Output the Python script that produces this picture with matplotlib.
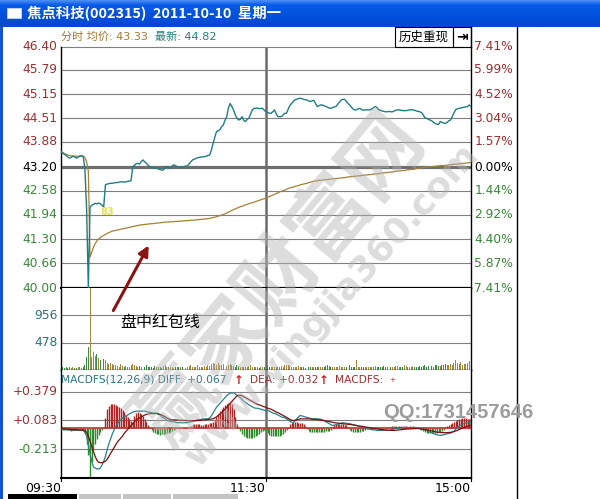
import numpy as np
import matplotlib
matplotlib.use('Agg')
import matplotlib.pyplot as plt
from matplotlib.patches import Rectangle

NUM = ['DejaVu Sans', 'Noto Sans CJK SC']
CJK = ['Noto Sans CJK SC', 'DejaVu Sans']
plt.rcParams['font.family'] = NUM

# ---------------- data ----------------
title = '焦点科技(002315)  2011-10-10  星期一'
price = [43.62, 43.58, 43.55, 43.52, 43.48, 43.45, 43.47, 43.50, 43.48, 43.45,
         43.47, 43.50, 43.52, 43.49, 43.15, 42.10, 40.00, 42.15, 42.20, 42.22,
         42.25, 42.23, 42.26, 42.24, 42.20, 42.15, 42.74, 42.76, 42.77, 42.78,
         42.78, 42.79, 42.80, 42.80, 42.81, 42.82, 42.82, 42.81, 42.82, 42.83,
         42.84, 42.85, 43.22, 43.26, 43.30, 43.31, 43.29, 43.36, 43.40, 43.35,
         43.31, 43.26, 43.22, 43.20, 43.19, 43.18, 43.18, 43.16, 43.15, 43.13,
         43.14, 43.20, 43.23, 43.18, 43.20, 43.24, 43.27, 43.25, 43.22, 43.21,
         43.22, 43.20, 43.22, 43.24, 43.24, 43.30, 43.35, 43.40, 43.42, 43.44,
         43.46, 43.47, 43.48, 43.48, 43.49, 43.50, 43.52, 43.53, 43.66, 43.84,
         44.00, 44.15, 44.18, 44.20, 44.28, 44.33, 44.45, 44.55, 44.78, 44.90,
         44.82, 44.73, 44.60, 44.51, 44.46, 44.48, 44.55, 44.45, 44.42, 44.48,
         44.51, 44.62, 44.73, 44.77, 44.77, 44.78, 44.76, 44.77, 44.77, 44.72,
         44.68, 44.66, 44.64, 44.64, 44.68, 44.73, 44.62, 44.55, 44.55, 44.55,
         44.60, 44.64, 44.64, 44.75, 44.85, 44.90, 44.96, 45.00, 45.01, 45.03,
         45.04, 45.03, 45.01, 45.00, 44.99, 44.97, 44.95, 44.97, 44.98, 44.90,
         44.82, 44.84, 44.86, 44.86, 44.84, 44.82, 44.80, 44.78, 44.77, 44.79,
         44.81, 44.82, 44.88, 44.94, 44.99, 45.01, 45.01, 44.96, 44.90, 44.86,
         44.80, 44.75, 44.73, 44.73, 44.76, 44.77, 44.74, 44.72, 44.73, 44.73,
         44.73, 44.73, 44.76, 44.79, 44.82, 44.79, 44.73, 44.72, 44.70, 44.69,
         44.68, 44.68, 44.69, 44.68, 44.68, 44.70, 44.72, 44.73, 44.73, 44.72,
         44.71, 44.71, 44.71, 44.72, 44.73, 44.73, 44.73, 44.72, 44.70, 44.69,
         44.68, 44.66, 44.60, 44.52, 44.51, 44.48, 44.46, 44.44, 44.40, 44.37,
         44.35, 44.34, 44.42, 44.40, 44.38, 44.37, 44.40, 44.44, 44.46, 44.55,
         44.65, 44.73, 44.76, 44.77, 44.78, 44.79, 44.80, 44.81, 44.82, 44.86,
         44.82]
avg_price = [43.62, 43.60, 43.57, 43.55, 43.53, 43.52, 43.51, 43.51, 43.50, 43.50,
             43.50, 43.50, 43.50, 43.50, 43.47, 43.35, 43.10, 40.82, 40.95, 41.08,
             41.18, 41.25, 41.30, 41.34, 41.37, 41.40, 41.42, 41.45, 41.47, 41.49,
             41.51, 41.52, 41.53, 41.54, 41.55, 41.56, 41.57, 41.58, 41.59, 41.60,
             41.61, 41.62, 41.63, 41.64, 41.65, 41.66, 41.67, 41.68, 41.68, 41.69,
             41.69, 41.70, 41.70, 41.71, 41.71, 41.72, 41.72, 41.73, 41.73, 41.74,
             41.74, 41.75, 41.75, 41.75, 41.76, 41.76, 41.76, 41.77, 41.77, 41.77,
             41.78, 41.78, 41.78, 41.79, 41.79, 41.79, 41.80, 41.80, 41.80, 41.81,
             41.81, 41.82, 41.82, 41.83, 41.83, 41.84, 41.84, 41.85, 41.86, 41.87,
             41.88, 41.89, 41.91, 41.92, 41.94, 41.95, 41.97, 41.99, 42.01, 42.04,
             42.06, 42.08, 42.10, 42.12, 42.14, 42.16, 42.17, 42.19, 42.21, 42.22,
             42.24, 42.25, 42.27, 42.28, 42.30, 42.31, 42.33, 42.34, 42.36, 42.37,
             42.39, 42.41, 42.43, 42.45, 42.47, 42.49, 42.51, 42.53, 42.55, 42.57,
             42.58, 42.60, 42.62, 42.64, 42.66, 42.67, 42.68, 42.70, 42.71, 42.72,
             42.74, 42.75, 42.76, 42.77, 42.78, 42.80, 42.81, 42.82, 42.84, 42.84,
             42.85, 42.86, 42.86, 42.87, 42.87, 42.88, 42.88, 42.89, 42.89, 42.90,
             42.90, 42.91, 42.91, 42.92, 42.92, 42.93, 42.93, 42.94, 42.95, 42.95,
             42.96, 42.96, 42.97, 42.97, 42.98, 42.98, 42.99, 42.99, 43.00, 43.00,
             43.01, 43.01, 43.02, 43.02, 43.03, 43.03, 43.04, 43.05, 43.05, 43.06,
             43.06, 43.07, 43.07, 43.08, 43.08, 43.09, 43.10, 43.10, 43.11, 43.11,
             43.12, 43.12, 43.13, 43.14, 43.14, 43.15, 43.15, 43.16, 43.17, 43.18,
             43.19, 43.19, 43.20, 43.20, 43.21, 43.21, 43.22, 43.22, 43.23, 43.23,
             43.24, 43.24, 43.25, 43.25, 43.25, 43.26, 43.26, 43.27, 43.27, 43.28,
             43.28, 43.29, 43.29, 43.30, 43.30, 43.31, 43.31, 43.32, 43.32, 43.33,
             43.33]
volume = [60, 45, 40, 50, 35, 45, 40, 55, 35, 40,
          50, 45, 40, 60, 90, 230, 410, 4500, 230, 320,
          250, 280, 210, 180, 150, 200, 170, 120, 110, 125,
          100, 80, 90, 70, 60, 100, 65, 55, 70, 60,
          50, 90, 110, 80, 70, 60, 75, 50, 45, 60,
          80, 55, 45, 50, 40, 65, 50, 45, 55, 40,
          70, 90, 50, 45, 60, 55, 40, 50, 45, 60,
          50, 45, 55, 40, 60, 70, 95, 60, 50, 45,
          80, 55, 60, 50, 75, 60, 90, 70, 110, 130,
          100, 85, 120, 95, 80, 110, 90, 70, 95, 100,
          80, 70, 60, 85, 65, 50, 55, 60, 45, 50,
          70, 80, 60, 55, 45, 50, 40, 55, 45, 50,
          60, 70, 55, 45, 50, 60, 50, 45, 55, 65,
          60, 85, 95, 80, 70, 60, 55, 50, 60, 70,
          55, 45, 50, 40, 55, 45, 60, 50, 45, 55,
          50, 45, 60, 55, 50, 65, 80, 70, 55, 50,
          45, 60, 55, 70, 50, 45, 55, 60, 65, 80,
          55, 50, 45, 175, 60, 50, 45, 55, 60, 50,
          45, 55, 50, 60, 70, 55, 50, 45, 60, 75,
          55, 50, 60, 45, 55, 50, 65, 70, 55, 50,
          60, 80, 65, 55, 50, 60, 70, 55, 45, 60,
          65, 55, 70, 80, 60, 75, 90, 70, 60, 80,
          95, 70, 65, 90, 85, 100, 80, 95, 110, 90,
          130, 170, 120, 100, 140, 90, 110, 100, 130, 150,
          290]
macd_hist = [-0.01, -0.015, -0.02, -0.02, -0.015, -0.02, -0.025, -0.02, -0.015, -0.02,
             -0.02, -0.015, -0.02, -0.03, -0.06, -0.16, -0.28, -0.51, -0.35, -0.23,
             -0.16, -0.11, -0.07, -0.04, -0.02, 0.02, 0.11, 0.20, 0.23, 0.25,
             0.25, 0.25, 0.24, 0.23, 0.22, 0.21, 0.19, 0.17, 0.14, 0.12,
             0.10, 0.08, 0.07, 0.13, 0.16, 0.17, 0.16, 0.15, 0.13, 0.10,
             0.07, 0.04, 0.02, -0.02, -0.04, -0.05, -0.06, -0.06, -0.065, -0.06,
             -0.06, -0.055, -0.05, -0.045, -0.04, -0.03, -0.02, -0.01, 0.01, -0.01,
             0.01, 0.02, 0.01, -0.01, 0.01, 0.02, 0.03, 0.04, 0.05, 0.05,
             0.05, 0.05, 0.04, 0.04, 0.05, 0.05, 0.05, 0.06, 0.06, 0.07,
             0.09, 0.12, 0.15, 0.18, 0.20, 0.22, 0.24, 0.25, 0.26, 0.27,
             0.25, 0.20, 0.12, 0.05, 0.0, -0.03, -0.06, -0.08, -0.09, -0.10,
             -0.10, -0.10, -0.10, -0.09, -0.08, -0.07, -0.06, -0.04, -0.03, -0.02,
             -0.03, -0.05, -0.07, -0.08, -0.08, -0.08, -0.08, -0.08, -0.08, -0.07,
             -0.06, -0.04, -0.02, 0.02, 0.05, 0.06, 0.07, 0.07, 0.07, 0.06,
             0.06, 0.06, 0.05, 0.03, -0.01, -0.03, -0.04, -0.04, -0.04, -0.04,
             -0.04, -0.04, -0.04, -0.04, -0.04, -0.03, -0.03, -0.03, -0.02, 0.02,
             0.04, 0.05, 0.05, 0.05, 0.05, 0.05, 0.04, 0.04, 0.02, -0.02,
             -0.03, -0.04, -0.04, -0.04, -0.04, -0.04, -0.03, -0.03, -0.02, -0.01,
             0.01, -0.01, -0.02, 0.01, -0.01, 0.01, -0.02, -0.02, -0.01, 0.01,
             -0.01, 0.01, 0.02, 0.02, 0.03, 0.03, 0.03, 0.02, 0.03, 0.03,
             0.02, 0.03, 0.03, 0.02, 0.03, 0.02, 0.03, 0.02, 0.01, 0.01,
             -0.01, -0.02, -0.03, -0.04, -0.05, -0.05, -0.05, -0.05, -0.05, -0.05,
             -0.05, -0.04, -0.04, -0.03, -0.02, 0.02, 0.03, 0.04, 0.05, 0.06,
             0.07, 0.08, 0.09, 0.10, 0.10, 0.11, 0.11, 0.11, 0.10, 0.10,
             0.11]
macd_diff = [0.0, -0.005, -0.01, -0.01, -0.015, -0.015, -0.02, -0.02, -0.02, -0.02,
             -0.02, -0.02, -0.02, -0.02, -0.04, -0.08, -0.17, -0.26, -0.34, -0.40,
             -0.41, -0.42, -0.42, -0.41, -0.38, -0.34, -0.29, -0.22, -0.16, -0.11,
             -0.06, -0.02, 0.02, 0.05, 0.07, 0.09, 0.11, 0.12, 0.13, 0.14,
             0.15, 0.16, 0.17, 0.175, 0.18, 0.18, 0.18, 0.18, 0.18, 0.18,
             0.175, 0.17, 0.17, 0.165, 0.16, 0.16, 0.16, 0.15, 0.14, 0.12,
             0.11, 0.10, 0.085, 0.08, 0.075, 0.07, 0.07, 0.065, 0.06, 0.06,
             0.06, 0.06, 0.06, 0.06, 0.06, 0.065, 0.07, 0.075, 0.08, 0.085,
             0.09, 0.09, 0.095, 0.10, 0.10, 0.10, 0.10, 0.11, 0.13, 0.16,
             0.19, 0.22, 0.24, 0.26, 0.28, 0.30, 0.32, 0.34, 0.355, 0.365,
             0.37, 0.37, 0.36, 0.345, 0.33, 0.32, 0.30, 0.285, 0.27, 0.26,
             0.245, 0.235, 0.225, 0.215, 0.21, 0.21, 0.205, 0.20, 0.195, 0.19,
             0.19, 0.185, 0.18, 0.17, 0.16, 0.155, 0.15, 0.14, 0.13, 0.12,
             0.115, 0.11, 0.10, 0.09, 0.075, 0.065, 0.06, 0.08, 0.10, 0.12,
             0.135, 0.13, 0.125, 0.12, 0.115, 0.11, 0.105, 0.10, 0.10, 0.10,
             0.10, 0.10, 0.095, 0.09, 0.08, 0.07, 0.06, 0.05, 0.04, 0.03,
             0.035, 0.04, 0.045, 0.05, 0.055, 0.06, 0.055, 0.055, 0.05, 0.05,
             0.045, 0.04, 0.035, 0.03, 0.025, 0.02, 0.015, 0.01, 0.005, 0.0,
             -0.005, -0.01, -0.01, -0.015, -0.015, -0.02, -0.02, -0.02, -0.02, -0.02,
             -0.02, -0.02, -0.02, -0.015, -0.01, -0.005, 0.0, 0.0, 0.005, 0.005,
             0.01, 0.01, 0.01, 0.01, 0.01, 0.01, 0.01, 0.01, 0.01, 0.005,
             0.0, -0.005, -0.01, -0.015, -0.02, -0.03, -0.04, -0.045, -0.05, -0.06,
             -0.065, -0.07, -0.07, -0.07, -0.065, -0.06, -0.055, -0.05, -0.05, -0.04,
             -0.03, -0.01, 0.01, 0.025, 0.035, 0.045, 0.05, 0.055, 0.06, 0.065,
             0.067]
macd_dea = [0.0, -0.002, -0.004, -0.006, -0.008, -0.01, -0.011, -0.012, -0.013, -0.014,
            -0.015, -0.015, -0.015, -0.016, -0.02, -0.04, -0.08, -0.13, -0.19, -0.24,
            -0.29, -0.33, -0.35, -0.355, -0.355, -0.35, -0.34, -0.32, -0.29, -0.26,
            -0.23, -0.20, -0.17, -0.14, -0.12, -0.10, -0.08, -0.05, -0.03, -0.01,
            0.01, 0.03, 0.05, 0.07, 0.09, 0.10, 0.11, 0.12, 0.13, 0.14,
            0.145, 0.15, 0.155, 0.155, 0.155, 0.155, 0.155, 0.15, 0.145, 0.14,
            0.13, 0.12, 0.11, 0.10, 0.095, 0.09, 0.09, 0.088, 0.087, 0.086,
            0.085, 0.084, 0.083, 0.082, 0.081, 0.08, 0.08, 0.08, 0.08, 0.081,
            0.082, 0.083, 0.085, 0.087, 0.09, 0.092, 0.094, 0.096, 0.098, 0.10,
            0.11, 0.12, 0.135, 0.15, 0.165, 0.18, 0.20, 0.22, 0.24, 0.26,
            0.28, 0.30, 0.32, 0.34, 0.345, 0.345, 0.34, 0.33, 0.32, 0.31,
            0.30, 0.29, 0.28, 0.27, 0.26, 0.25, 0.245, 0.24, 0.23, 0.225,
            0.22, 0.21, 0.205, 0.20, 0.19, 0.18, 0.17, 0.165, 0.155, 0.145,
            0.135, 0.125, 0.115, 0.105, 0.095, 0.085, 0.083, 0.085, 0.09, 0.095,
            0.10, 0.10, 0.10, 0.10, 0.10, 0.10, 0.10, 0.095, 0.095, 0.095,
            0.09, 0.09, 0.088, 0.085, 0.082, 0.08, 0.076, 0.072, 0.068, 0.064,
            0.06, 0.058, 0.056, 0.054, 0.052, 0.05, 0.048, 0.046, 0.044, 0.042,
            0.04, 0.037, 0.034, 0.031, 0.028, 0.025, 0.022, 0.019, 0.016, 0.013,
            0.01, 0.007, 0.004, 0.001, -0.002, -0.005, -0.008, -0.01, -0.012, -0.014,
            -0.016, -0.018, -0.019, -0.02, -0.02, -0.02, -0.018, -0.016, -0.014, -0.012,
            -0.01, -0.008, -0.006, -0.005, -0.004, -0.003, -0.002, -0.001, 0.0, 0.0,
            -0.002, -0.005, -0.008, -0.011, -0.014, -0.018, -0.022, -0.026, -0.03, -0.034,
            -0.038, -0.04, -0.042, -0.043, -0.044, -0.044, -0.043, -0.042, -0.04, -0.036,
            -0.032, -0.026, -0.02, -0.012, -0.004, 0.004, 0.012, 0.018, 0.024, 0.028,
            0.032]

price_ticks = [46.40, 45.79, 45.15, 44.51, 43.88, 43.20, 42.58, 41.94, 41.30, 40.66, 40.00]
price_labels = ['46.40', '45.79', '45.15', '44.51', '43.88', '43.20', '42.58', '41.94', '41.30', '40.66', '40.00']
pct_labels = ['7.41%', '5.99%', '4.52%', '3.04%', '1.57%', '0.00%', '1.44%', '2.92%', '4.40%', '5.87%', '7.41%']
ref_price = 43.20
vol_ticks = [956, 478]
vol_max = 1434
macd_ticks = [0.379, 0.083, -0.213]
macd_labels = ['+0.379', '+0.083', '-0.213']
macd_lim = (-0.514, 0.607)
time_pos = [0, 120, 240]
time_labels = ['09:30', '11:30', '15:00']

# ---------------- style ----------------
RED_T = '#9B2F2F'
GRN_T = '#3A873A'
TEAL = '#237C82'
AVG = '#A58038'
GRID = '#7F7F7F'
W, H = 600, 499

fig = plt.figure(figsize=(W / 100, H / 100), dpi=100)
fig.patch.set_facecolor('white')


def rect(x0, y0, x1, y1):
    return [x0 / W, 1 - y1 / H, (x1 - x0) / W, (y1 - y0) / H]


def lab_color(i, mid):
    if i < mid:
        return RED_T
    if i == mid:
        return 'black'
    return GRN_T


ax_p = fig.add_axes(rect(61, 47, 471, 288))
ax_v = fig.add_axes(rect(61, 288, 471, 370))
ax_m = fig.add_axes(rect(61, 370, 471, 478))

for ax in (ax_p, ax_v, ax_m):
    ax.set_xlim(0, 240)
    ax.set_xticks([])
    ax.set_yticks([])
    ax.spines['top'].set_visible(False)
    for s in ('left', 'right', 'bottom'):
        ax.spines[s].set_color('black')
        ax.spines[s].set_linewidth(1.0)
    ax.axvline(120, color='#6A6A6A', lw=1.8, zorder=1)

# price panel
m = np.arange(len(price))
ax_p.set_ylim(40.00, 46.40)
ax_p.spines['bottom'].set_linewidth(1.6)
mid = price_ticks.index(ref_price)
for i, t in enumerate(price_ticks):
    if t == ref_price:
        ax_p.axhline(t, color='#6E6E6E', lw=2.3, zorder=1)
    elif i != len(price_ticks) - 1:
        ax_p.axhline(t, color=GRID, lw=0.8, zorder=1, clip_on=False)
    ytr = ax_p.get_yaxis_transform()
    ax_p.text(-0.008, t, price_labels[i], transform=ytr, ha='right', va='center',
              fontsize=8.8, color=lab_color(i, mid))
    ax_p.text(1.008, t, pct_labels[i], transform=ytr, ha='left', va='center',
              fontsize=8.8, color=lab_color(i, mid))
ax_p.plot(np.arange(len(avg_price)), avg_price, color=AVG, lw=0.9, zorder=3)
ax_p.plot(m, price, color=TEAL, lw=1.0, zorder=4)

# volume panel
ax_v.set_ylim(0, vol_max)
for t in vol_ticks:
    ax_v.axhline(t, color=GRID, lw=0.8, zorder=1)
    ax_v.text(-0.008, t, str(t), transform=ax_v.get_yaxis_transform(), ha='right',
              va='center', fontsize=8.8, color='#2F6E80')
vcol = ['#A8863A' if i == 0 or price[i] >= price[i - 1] else '#3C8C46'
        for i in range(len(volume))]
ax_v.bar(np.arange(len(volume)), volume, width=0.55, color=vcol, zorder=2)

# macd panel
ax_m.set_ylim(*macd_lim)
ax_m.spines['bottom'].set_linewidth(1.5)
for t, lbl in zip(macd_ticks, macd_labels):
    ax_m.axhline(t, color=GRID, lw=0.8, zorder=1)
    ax_m.text(-0.008, t, lbl, transform=ax_m.get_yaxis_transform(), ha='right',
              va='center', fontsize=8.8, color=RED_T if t > 0 else GRN_T)
hm = np.arange(len(macd_hist))
hcol = ['#B42222' if v > 0 else '#2E8B2E' for v in macd_hist]
ax_m.vlines(hm, 0, macd_hist, colors=hcol, lw=1.0, zorder=2)
ax_m.axhline(0, color='#C03030', lw=1.2, zorder=2)
ax_m.plot(np.arange(len(macd_diff)), macd_diff, color='#2A8088', lw=0.9, zorder=3)
ax_m.plot(np.arange(len(macd_dea)), macd_dea, color='#7A1010', lw=0.9, zorder=3)
for p, lbl in zip(time_pos, time_labels):
    ax_m.text(p, -0.04, lbl, transform=ax_m.get_xaxis_transform(), ha='right', va='top',
              fontsize=9, color='black', clip_on=False)
    ax_m.plot([p, p], [0, -0.03], transform=ax_m.get_xaxis_transform(), color='black',
              lw=0.8, clip_on=False)

# ---------------- overlay (pixel coords) ----------------
ov = fig.add_axes([0, 0, 1, 1], zorder=10)
ov.patch.set_alpha(0)
ov.axis('off')

rows = 27
top = np.array([0x4A, 0x8C, 0xF6]) / 255
midc = np.array([0x05, 0x5A, 0xE8]) / 255
bot = np.array([0x00, 0x48, 0xCC]) / 255
grad = np.zeros((rows, 1, 3))
for i in range(rows):
    t = i / (rows - 1)
    if t < 0.18:
        grad[i, 0] = top + (midc - top) * t / 0.18
    else:
        grad[i, 0] = midc + (bot - midc) * (t - 0.18) / 0.82
ov.imshow(grad, extent=(0, W, 27, 0), aspect='auto', interpolation='bilinear', zorder=0)
ov.set_xlim(0, W)
ov.set_ylim(H, 0)

ov.add_patch(Rectangle((7, 8), 14, 10, fc='white', ec='#C8D4F0', lw=0.6, zorder=2))
ov.text(27, 14, title, color='white', fontsize=10.4, fontweight='bold', va='center',
        ha='left', family=CJK, zorder=3)

ov.add_patch(Rectangle((0, 27), 3, H - 27, fc='#1450D0', ec='none', zorder=2))
ov.plot([517, 517], [27, H], color='black', lw=1.0, zorder=2)
ov.plot([471, 471], [27, 47], color='black', lw=1.0, zorder=2)
ov.add_patch(Rectangle((395, 27), 58, 19.5, fill=False, ec='black', lw=0.8, zorder=2))
ov.add_patch(Rectangle((453, 27), 18, 19.5, fill=False, ec='black', lw=0.8, zorder=2))
ov.text(424, 37, '历史重现', fontsize=9, ha='center', va='center', family=CJK, color='black')
ov.text(462, 37, '⇥', fontsize=10, fontweight='bold', ha='center', va='center', color='black')

ov.text(61, 37, '分时 均价: 43.33', fontsize=8.0, ha='left', va='center', color='#A0782C')
ov.text(155, 37, '最新: 44.82', fontsize=8.0, ha='left', va='center', color='#2A7B7B')

ov.text(61, 380, 'MACDFS(12,26,9) DIFF: +0.067', fontsize=7.7, ha='left', va='center',
        color='#2A7480')
ov.text(239, 380, '↑', fontsize=8.5, fontweight='bold', ha='center', va='center', color='#D02020')
ov.text(250, 380, 'DEA: +0.032', fontsize=7.7, ha='left', va='center', color='#9B2F2F')
ov.text(324, 380, '↑', fontsize=8.5, fontweight='bold', ha='center', va='center', color='#D02020')
ov.text(335, 380, 'MACDFS:', fontsize=7.7, ha='left', va='center', color='#9B2F2F')
ov.text(392, 380, '+', fontsize=5, ha='center', va='center', color='#9B2F2F')

# bottom tabs
ov.add_patch(Rectangle((8, 494), 69, 5, fc='black', ec='none'))
for x0, x1 in [(79, 121), (123, 171), (173, 238)]:
    ov.add_patch(Rectangle((x0, 494), x1 - x0, 5, fc='#C4C4C4', ec='none'))

# annotation
ov.annotate('', xy=(150, 243), xytext=(112, 313),
            arrowprops=dict(arrowstyle='-|>', color='#8B1212', lw=2.2, mutation_scale=15))
ov.text(160, 322, '盘中红包线', fontsize=11.5, ha='center', va='center', family=CJK,
        color='black', zorder=6)
ov.text(107, 212, '83', fontsize=7, fontweight='bold', ha='center', va='center',
        color='#E8E050', zorder=6)

# watermarks
ov.text(280, 280, '赢家财富网', rotation=50, fontsize=58, fontweight='bold',
        color='#B4B4B4', alpha=0.45, ha='center', va='center', family=CJK, zorder=5)
ov.text(332, 305, 'www.yingjia360.com', rotation=48, fontsize=26, fontweight='bold',
        color='#B4B4B4', alpha=0.45, ha='center', va='center', family=NUM, zorder=5)
ov.text(458, 412, 'QQ:1731457646', fontsize=14.5, fontweight='bold', ha='center',
        va='center', color='#9C9C9C', family=['Liberation Sans', 'DejaVu Sans'], zorder=6)

fig.savefig('out.png', dpi=100, facecolor='white')
